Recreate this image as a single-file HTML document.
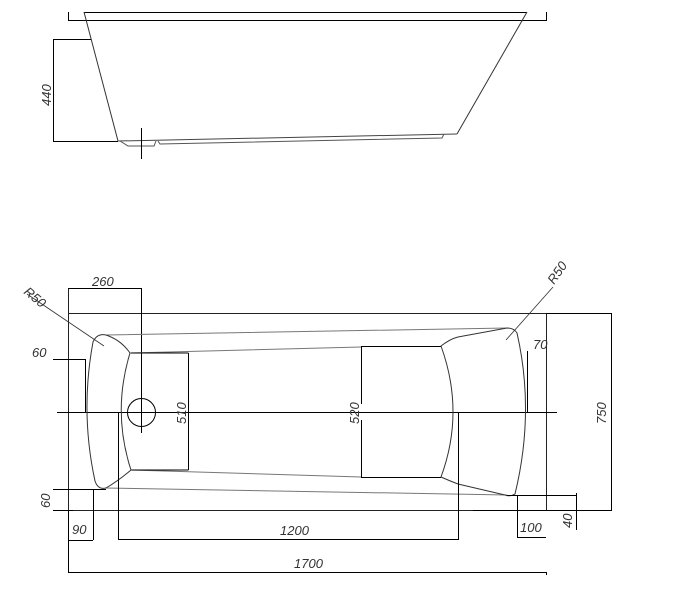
<!DOCTYPE html>
<html><head><meta charset="utf-8"><style>
html,body{margin:0;padding:0;background:#fff;}
svg{display:block}
text{font-family:"Liberation Sans",sans-serif;font-style:italic;font-size:13px;fill:#333;}
</style></head><body>
<svg width="678" height="589" viewBox="0 0 678 589" xmlns="http://www.w3.org/2000/svg">
<g fill="none" stroke="#000" stroke-width="1">
<!-- side view -->
<path d="M68.5 12V20.5H546.5V12"/>
<path d="M84 12.5H527"/>
<path d="M84 12L118 141" stroke="#333"/>
<path d="M527 12L457 134" stroke="#333"/>
<path d="M118 141L457 134" stroke="#444"/>
<path d="M120 141L128 146H154L156 141M158 141L160 144L442 138L444 134" stroke="#555"/>
<path d="M141.5 128V159"/>
<path d="M53.5 39V141.5M53 39.5H91M53 141.5H118"/>
<!-- plan view -->
<path d="M68.5 288V510.5H546.5V313.5H68.5" stroke="#222"/>
<path d="M546 313.5H612M473 510.5H612M611.5 313V510"/>
<path d="M57 412.5H557"/>
<path d="M68 288.5H141.5V433"/>
<circle cx="141.5" cy="412.5" r="14"/>
<path d="M106 335L507 328M105 488L507 495" stroke="#777"/>
<path d="M130 353L361 347M131 470L361 477" stroke="#777"/>
<path d="M188.5 353V470M131 353H188.5M131 470H188.5"/>
<path d="M361.5 346V404M361.5 420V477M361 346.5H441M361 477.5H441"/>
<!-- left headrest -->
<path d="M93 342Q97 333 106 335Q121 340 130 353Q112 412 131 470Q118 481 106 488Q98 490 95 481Q80 412 93 342Z" stroke="#333"/>
<!-- right headrest -->
<path d="M441 346Q450 339 458 337L507 328Q514 328 517 333Q535 412 515 494Q510 497 505 495L458 484Q450 481 441 477Q465 412 441 346Z" stroke="#333"/>
<!-- R50 leaders -->
<path d="M27 294L104 346" stroke="#333" stroke-width="0.8"/>
<path d="M506 340L553 287" stroke="#333" stroke-width="0.8"/>
<!-- 70 -->
<path d="M527.5 351V412"/>
<!-- 60 top -->
<path d="M53 359.5H85.5V412"/>
<!-- 60 bottom -->
<path d="M53 489.5H106M53 510.5H73"/>
<!-- 90 -->
<path d="M68.5 510V540M93.5 489V540M68 540.5H93"/>
<!-- 1200 -->
<path d="M118.5 412V539.5H458.5V412"/>
<!-- 1700 -->
<path d="M68.5 510V572.5H546.5V575"/>
<!-- 100 -->
<path d="M517.5 495V537.5H546"/>
<!-- 40 -->
<path d="M507 495.5H576.5V493M576.5 495V530"/>
</g>
<text x="92" y="286">260</text>
<text x="32" y="357">60</text>
<text x="533" y="349">70</text>
<text x="72" y="534">90</text>
<text x="280" y="535">1200</text>
<text x="294" y="568">1700</text>
<text x="520" y="532">100</text>
<text transform="translate(51,106) rotate(-90)">440</text>
<text transform="translate(186,424) rotate(-90)">510</text>
<text transform="translate(359,424) rotate(-90)">520</text>
<text transform="translate(606,424) rotate(-90)">750</text>
<text transform="translate(50,508) rotate(-90)">60</text>
<text transform="translate(572,528) rotate(-90)">40</text>
<text transform="translate(23,293) rotate(40)">R50</text>
<text transform="translate(554,285) rotate(-55)">R50</text>
</svg>
</body></html>
